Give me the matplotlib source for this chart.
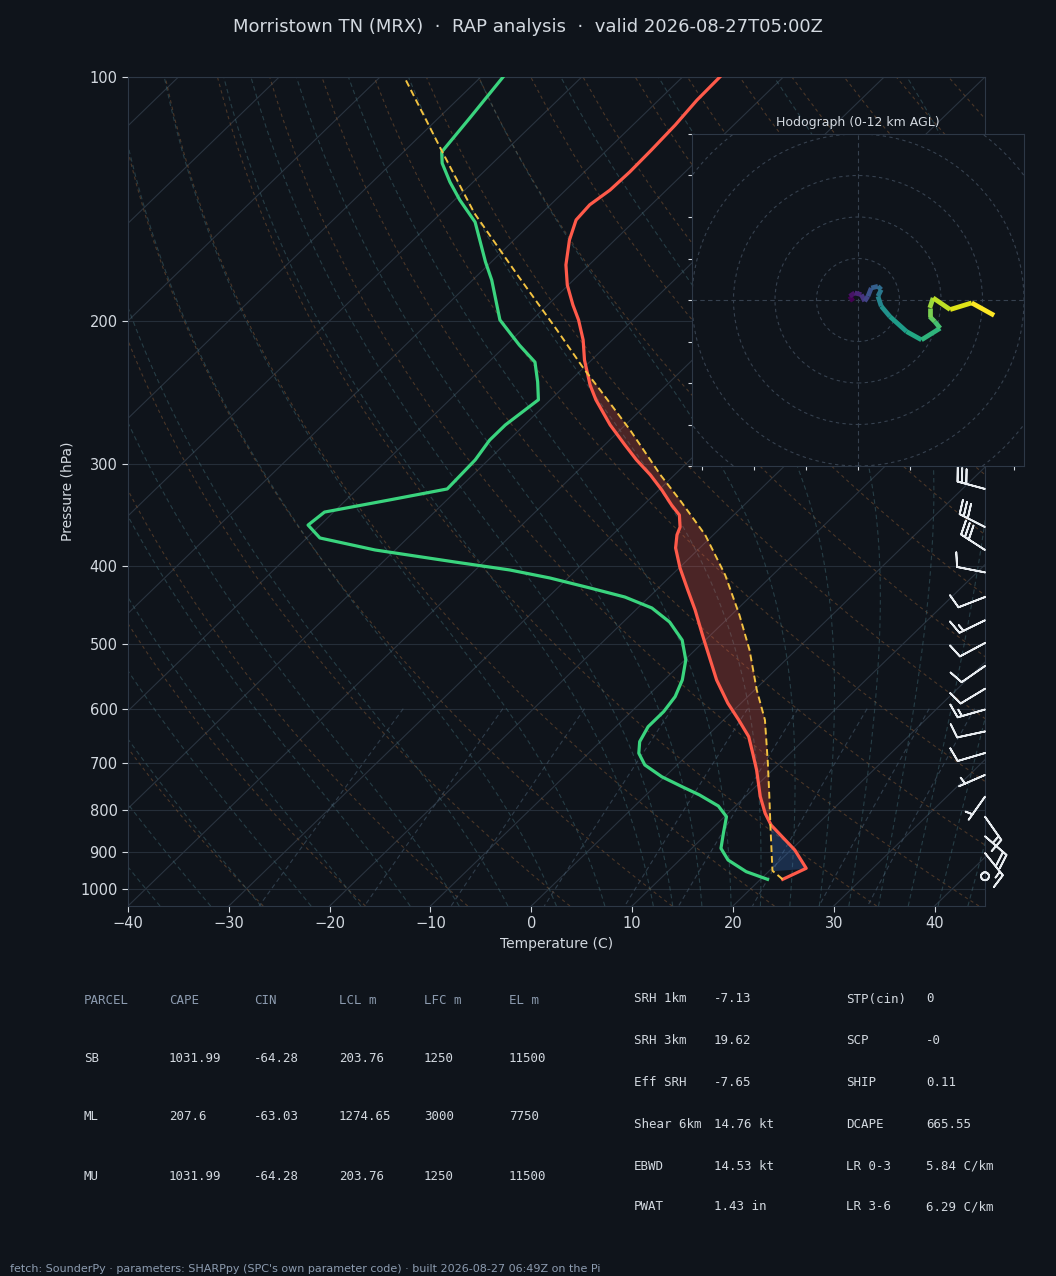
import numpy as np
import matplotlib
matplotlib.use('Agg')
import matplotlib.pyplot as plt
import matplotlib.transforms as mtransforms
from matplotlib.collections import LineCollection
from matplotlib.patches import Circle
from matplotlib.ticker import FixedLocator, NullLocator, FuncFormatter

# ---------------- data ----------------
title = "Morristown TN (MRX)  \u00b7  RAP analysis  \u00b7  valid 2026-08-27T05:00Z"

p_temp = [973.5, 943.5, 895.9, 834.8, 807.4, 770.0, 713.9, 680.8, 649.5, 619.5, 590.7,
          553.0, 486.9, 453.5, 428.3, 402.6, 380.3, 366.5, 358.4, 346.4, 336.7, 322.7,
          309.1, 296.3, 283.9, 268.3, 249.8, 239.5, 223.2, 210.8, 199.2, 190.9, 180.4,
          170.4, 158.8, 150.0, 143.7, 137.8, 130.9, 123.1, 114.6, 106.8, 100.0]
temp_c = [22.2, 23.4, 20.4, 15.5, 13.7, 11.5, 8.4, 6.3, 4.2, 1.5, -1.3,
          -4.8, -10.8, -14.1, -16.9, -19.9, -22.4, -23.6, -24.1, -25.4, -27.2, -29.7,
          -32.4, -35.3, -38.0, -41.5, -45.5, -47.6, -50.7, -52.9, -55.4, -57.5, -60.1,
          -62.3, -64.5, -65.9, -66.1, -65.6, -65.5, -65.6, -65.8, -66.2, -66.3]

p_dew = [973.5, 952.6, 921.6, 891.6, 854.4, 815.0, 790.7, 766.3, 748.4, 727.8, 703.8,
         680.8, 658.8, 631.4, 605.0, 579.8, 553.0, 522.6, 493.9, 469.2, 450.9, 437.1,
         426.0, 414.1, 404.8, 395.7, 382.5, 369.7, 356.4, 343.5, 331.9, 321.7, 296.3,
         280.1, 268.3, 249.8, 237.5, 224.5, 213.9, 199.2, 177.9, 168.9, 150.9, 141.7,
         134.7, 127.7, 123.7, 112.3, 100.0]
dewp_c = [20.7, 17.8, 14.8, 12.9, 11.6, 10.2, 8.3, 5.3, 2.7, -0.3, -3.2,
          -5.0, -6.1, -6.8, -6.8, -7.2, -8.2, -9.9, -12.3, -15.4, -18.6, -22.4,
          -26.8, -31.8, -36.6, -42.9, -52.0, -58.7, -61.2, -60.9, -55.7, -51.1, -51.3,
          -51.9, -51.9, -51.2, -53.1, -55.4, -58.7, -63.2, -68.1, -70.6, -75.7, -79.5,
          -82.3, -85.0, -86.2, -86.9, -87.8]

p_parcel = [973.5, 950.0, 838.7, 770.0, 699.9, 619.5, 568.8, 508.0, 459.9, 410.7, 366.5,
            331.9, 309.1, 272.2, 242.9, 228.3, 205.0, 174.4, 147.1, 124.0, 100.0]
parcel_c = [22.2, 20.3, 15.6, 12.4, 8.8, 4.1, 0.2, -4.6, -9.2, -14.7, -20.8,
            -26.9, -31.4, -39.0, -46.1, -50.0, -56.5, -66.4, -76.7, -86.0, -97.6]

barb_p = [321.7, 358.4, 382.5, 407.6, 437.1, 466.9, 498.0, 531.5, 567.0, 601.4,
          640.0, 680.4, 724.0, 770.0, 815.0, 861.6, 903.6, 965.0]
barb_u = [29.0, 26.7, 25.2, 9.8, 9.3, 13.5, 8.8, 8.2, 8.6, 14.4,
          9.8, 9.6, 4.6, 2.9, -8.6, -15.1, -9.4, 0.0]
barb_v = [-7.8, -13.6, -16.3, -1.9, 3.6, 6.6, 4.7, 5.7, 5.2, 4.1,
          2.1, 2.8, 2.0, 4.1, 12.3, 13.1, 11.7, 0.0]

hodo_u = [-1.2, -2.0, -0.8, 0.8, 1.6, 2.4, 3.2, 4.8, 5.6, 4.8, 5.6, 7.7, 11.7, 15.3,
          19.8, 18.5, 17.3, 17.3, 18.1, 22.2, 27.4, 32.8]
hodo_v = [-0.3, 0.9, 1.7, 1.3, -0.3, 0.9, 2.9, 3.3, 2.5, 0.9, -1.5, -4.0, -7.6, -9.6,
          -6.8, -5.2, -4.0, -1.9, 0.5, -2.3, -0.7, -3.7]

cin_bottom_hpa = 945.0
lfc_hpa = 836.0
el_hpa = 228.0

parcel_cols = ["PARCEL", "CAPE", "CIN", "LCL m", "LFC m", "EL m"]
parcel_rows = [["SB", "1031.99", "-64.28", "203.76", "1250", "11500"],
               ["ML", "207.6", "-63.03", "1274.65", "3000", "7750"],
               ["MU", "1031.99", "-64.28", "203.76", "1250", "11500"]]

idx_left_names = ["SRH 1km", "SRH 3km", "Eff SRH", "Shear 6km", "EBWD", "PWAT"]
idx_left_vals = ["-7.13", "19.62", "-7.65", "14.76 kt", "14.53 kt", "1.43 in"]
idx_right_names = ["STP(cin)", "SCP", "SHIP", "DCAPE", "LR 0-3", "LR 3-6"]
idx_right_vals = ["0", "-0", "0.11", "665.55", "5.84 C/km", "6.29 C/km"]

footer = ("fetch: SounderPy \u00b7 parameters: SHARPpy (SPC's own parameter code) "
          "\u00b7 built 2026-08-27 06:49Z on the Pi")

# ---------------- style ----------------
BG = '#0f141b'
FG = '#d3d9e0'
MUTED = '#8d9cb0'
GRID = '#252e39'
SPINE = '#2d3846'
T_COL = '#ff5a4a'
TD_COL = '#3ad47e'
PCL_COL = '#f2c241'

W, H = 1056, 1276
fig = plt.figure(figsize=(W / 100, H / 100), dpi=100, facecolor=BG)

def fx(x):
    return x / W

def fy(y):
    return 1 - y / H

ax = fig.add_axes([fx(128), fy(906), fx(985) - fx(128), fy(77) - fy(906)])
ax.set_facecolor(BG)
ax.set_autoscale_on(False)
ax.set_yscale('log')
ax.set_ylim(1050, 100)
ax.set_xlim(-40, 45)
ax.yaxis.set_major_locator(FixedLocator(list(range(100, 1001, 100))))
ax.yaxis.set_minor_locator(NullLocator())
ax.yaxis.set_major_formatter(FuncFormatter(lambda v, pos: f"{int(round(v))}"))
ax.set_xticks(list(range(-40, 41, 10)))
ax.tick_params(colors=FG, labelsize=10.5, length=4, width=0.8)
for s in ax.spines.values():
    s.set_color(SPINE)
ax.yaxis.grid(True, color=GRID, lw=0.8)
ax.set_axisbelow(True)
ax.set_ylabel('Pressure (hPa)', color=FG, fontsize=10)
ax.set_xlabel('Temperature (C)', color=FG, fontsize=10)

skew = ax.transScale + ax.transLimits + mtransforms.Affine2D().skew_deg(45, 0) + ax.transAxes

# isotherms
for t in range(-130, 50, 10):
    ax.plot([t, t], [1050, 100], transform=skew, color='#2a3440', lw=0.8, zorder=1)

pg = np.linspace(1050, 100, 80)
# dry adiabats
for t0 in np.arange(-30, 201, 10):
    tt = (t0 + 273.15) * (pg / 1000.0) ** 0.2857 - 273.15
    ax.plot(tt, pg, transform=skew, color='#7a5232', lw=0.8, ls=(0, (3, 3)), alpha=0.55, zorder=1)

# moist adiabats
def dTdp(p, T):
    Rd, Cp, Lv, eps = 287.04, 1005.7, 2.501e6, 0.622
    es = 6.112 * np.exp(17.67 * (T - 273.15) / (T - 29.65))
    rs = eps * es / (p - es)
    return (Rd * T + Lv * rs) / (Cp + Lv * Lv * rs * eps / (Rd * T * T)) / p

def moist_curve(t0c, pres):
    up = np.concatenate(([1000.0], pres[pres <= 1000]))
    down = np.concatenate(([1000.0], pres[pres > 1000][::-1]))
    res = {}
    for arr in (up, down):
        T = t0c + 273.15
        for i in range(1, len(arr)):
            p0, p1 = arr[i - 1], arr[i]
            h = p1 - p0
            k1 = dTdp(p0, T)
            k2 = dTdp(p0 + h / 2, T + h / 2 * k1)
            k3 = dTdp(p0 + h / 2, T + h / 2 * k2)
            k4 = dTdp(p1, T + h * k3)
            T = T + h / 6 * (k1 + 2 * k2 + 2 * k3 + k4)
            res[p1] = T - 273.15
    return np.array([res[p] for p in pres])

pm = np.linspace(1050, 100, 120)
for t0 in np.concatenate((np.arange(-50, 11, 5), np.arange(12, 46, 3))):
    ax.plot(moist_curve(float(t0), pm), pm, transform=skew, color='#3d6670',
            lw=0.8, ls=(0, (4, 3)), alpha=0.5, zorder=1)

# mixing ratio lines
pmx = np.linspace(600, 1050, 10)
for w in [0.0004, 0.001, 0.002, 0.004, 0.007, 0.01, 0.016, 0.024, 0.032]:
    e = pmx * w / (0.622 + w)
    le = np.log(e / 6.112)
    td = 243.5 * le / (17.67 - le)
    ax.plot(td, pmx, transform=skew, color='#44586a', lw=0.8, ls=(0, (4, 3)), alpha=0.6, zorder=1)

# CAPE / CIN shading
lp = np.log(np.array(p_temp[::-1]))
pf = np.array(sorted(set(p_temp) | set(p_parcel) | {lfc_hpa, el_hpa}, reverse=True))
t_on = np.interp(np.log(pf), lp, np.array(temp_c[::-1]))
pc_on = np.interp(np.log(pf), np.log(np.array(p_parcel[::-1])), np.array(parcel_c[::-1]))
ax.fill_betweenx(pf, pc_on, t_on, where=(pf <= lfc_hpa) & (pf >= el_hpa), interpolate=True,
                 transform=skew, color=T_COL, alpha=0.25, lw=0, zorder=2)
ax.fill_betweenx(pf, pc_on, t_on, where=(pf <= cin_bottom_hpa) & (pf >= lfc_hpa), interpolate=True,
                 transform=skew, color='#3a74c8', alpha=0.28, lw=0, zorder=2)

ax.plot(temp_c, p_temp, transform=skew, color=T_COL, lw=2.3, zorder=4)
ax.plot(dewp_c, p_dew, transform=skew, color=TD_COL, lw=2.3, zorder=4)
ax.plot(parcel_c, p_parcel, transform=skew, color=PCL_COL, lw=1.4, ls=(0, (3.5, 2)), zorder=5)

# wind barbs
btrans = mtransforms.blended_transform_factory(ax.transAxes, ax.transData)
ax.barbs(np.ones(len(barb_p)), barb_p, barb_u, barb_v, transform=btrans, clip_on=False,
         color='#e8ecf0', length=6.4, linewidth=1.3, zorder=6,
         sizes=dict(height=0.5, spacing=0.16, emptybarb=0.14))

# hodograph
hax = fig.add_axes([fx(692), fy(466), fx(1024) - fx(692), fy(134) - fy(466)])
hax.set_facecolor(BG)
hax.set_xlim(-40, 40)
hax.set_ylim(-40, 40)
for r in range(10, 51, 10):
    hax.add_patch(Circle((0, 0), r, fill=False, ls=(0, (3, 3)), color='#36414f', lw=0.8))
hax.axhline(0, color='#36414f', ls=(0, (4, 3)), lw=0.8)
hax.axvline(0, color='#36414f', ls=(0, (4, 3)), lw=0.8)
hax.set_xticks([-37.5, -25, -12.5, 0, 12.5, 25, 37.5])
hax.set_yticks(list(range(-40, 41, 10)))
hax.tick_params(labelleft=False, labelbottom=False, colors=FG, length=3, width=0.8)
for s in hax.spines.values():
    s.set_color(SPINE)
pts = np.column_stack([hodo_u, hodo_v])
segs = np.stack([pts[:-1], pts[1:]], axis=1)
lc = LineCollection(segs, cmap='viridis', linewidths=3.4, capstyle='butt')
lc.set_array(np.linspace(0, 1, len(segs)))
hax.add_collection(lc)
hax.set_title('Hodograph (0-12 km AGL)', color=FG, fontsize=9, pad=6)

# title
fig.text(0.5, fy(27), title, ha='center', va='center', fontsize=13, color=FG)

# parcel table
mono = 'DejaVu Sans Mono'
col_x = [84, 169, 254, 339, 424, 509]
for i, c in enumerate(parcel_cols):
    fig.text(fx(col_x[i]), fy(1000), c, ha='left', va='center', fontsize=9, family=mono, color=MUTED)
row_y = [1058, 1117, 1176]
for r, row in enumerate(parcel_rows):
    for i, c in enumerate(row):
        fig.text(fx(col_x[i]), fy(row_y[r]), c, ha='left', va='center', fontsize=9, family=mono, color=FG)

# index table
iy = [999, 1041, 1083, 1124, 1166, 1207]
for k in range(6):
    fig.text(fx(634), fy(iy[k]), idx_left_names[k], ha='left', va='center', fontsize=9, family=mono, color=FG)
    fig.text(fx(714), fy(iy[k]), idx_left_vals[k], ha='left', va='center', fontsize=9, family=mono, color=FG)
    fig.text(fx(846), fy(iy[k]), idx_right_names[k], ha='left', va='center', fontsize=9, family=mono, color=FG)
    fig.text(fx(926), fy(iy[k]), idx_right_vals[k], ha='left', va='center', fontsize=9, family=mono, color=FG)

fig.text(fx(10), fy(1269), footer, ha='left', va='center', fontsize=8, color=MUTED)

fig.savefig('out.png', dpi=100, facecolor=BG)
